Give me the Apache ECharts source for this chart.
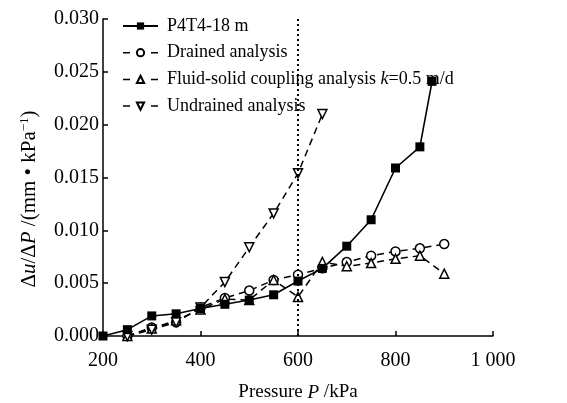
<!DOCTYPE html>
<html><head><meta charset="utf-8">
<script src="https://cdn.jsdelivr.net/npm/echarts@6/dist/echarts.min.js"></script>
<style>html,body{margin:0;padding:0;background:#fff}#c{width:567px;height:403px}</style>
</head><body><div id="c"></div>
<script>
const seriesNames = ['P4T4-18 m', 'Drained analysis', 'Fluid-solid coupling analysis k=0.5 m/d', 'Undrained analysis'];
const measuredP = [200,250,300,350,400,450,500,550,600,650,700,750,800,850,875];
const measuredV = [0.0000,0.0006,0.0019,0.0021,0.0026,0.0030,0.0034,0.0039,0.0052,0.0064,0.0085,0.0110,0.0159,0.0179,0.0241];
const calcP = [250,300,350,400,450,500,550,600,650,700,750,800,850,900];
const drainedV = [0.0000,0.0008,0.0013,0.0027,0.0036,0.0043,0.0053,0.0058,0.0064,0.0070,0.0076,0.0080,0.0083,0.0087];
const couplingV = [0.0000,0.0007,0.0015,0.0025,0.0035,0.0034,0.0053,0.0037,0.0070,0.0066,0.0069,0.0073,0.0076,0.0059];
const undrainedP = [250,300,350,400,450,500,550,600,650];
const undrainedV = [0.0000,0.0006,0.0013,0.0027,0.0051,0.0084,0.0116,0.0154,0.0210];
const xTicks = [200,400,600,800,1000];
const markerP = 600;

const FONT = 'Liberation Serif';
const zip = (xs, ys) => xs.map((x, i) => [x, ys[i]]);
const chart = echarts.init(document.getElementById('c'), null, {renderer: 'canvas'});
const dashed = {color: '#000', width: 1.5, type: [7, 5]};
const openSym = {color: '#fff', borderColor: '#000', borderWidth: 1.5};
const legendDash = {color: '#000', width: 1.5, type: [7, 21]};

chart.setOption({
  animation: false,
  backgroundColor: '#fff',
  grid: {left: 103, right: 74, top: 19, bottom: 67, containLabel: false, outerBoundsMode: 'none'},
  legend: {
    orient: 'vertical', left: 117, top: 11,
    itemWidth: 35, itemHeight: 9, itemGap: 6.7,
    data: [
      {name: seriesNames[0]},
      {name: seriesNames[1], lineStyle: legendDash},
      {name: seriesNames[2], lineStyle: legendDash},
      {name: seriesNames[3], lineStyle: legendDash}
    ],
    textStyle: {
      fontFamily: FONT, fontSize: 18, color: '#000', lineHeight: 20, padding: [0, 0, 0, 4],
      rich: {
        n: {fontFamily: FONT, fontSize: 18, color: '#000'},
        i: {fontFamily: FONT, fontSize: 18, color: '#000', fontStyle: 'italic'}
      }
    },
    formatter: name => name === seriesNames[2]
      ? '{n|Fluid-solid coupling analysis }{i|k}{n|=0.5 m/d}' : name
  },
  xAxis: {
    type: 'value', min: 200, max: 1000, interval: 200,
    name: '{n|Pressure }{i|P}{n| /kPa}', nameLocation: 'middle', nameGap: 47,
    nameTextStyle: {rich: {
      n: {fontFamily: FONT, fontSize: 19, color: '#000'},
      i: {fontFamily: FONT, fontSize: 19, color: '#000', fontStyle: 'italic'}
    }},
    axisLine: {show: true, lineStyle: {color: '#000', width: 1.5}},
    axisTick: {show: true, inside: true, length: 5, lineStyle: {color: '#000', width: 1.5}},
    axisLabel: {fontFamily: FONT, fontSize: 20, color: '#000', margin: 15,
      formatter: v => v >= 1000 ? String(v).replace(/(\d)(\d{3})$/, '$1 $2') : String(v)},
    splitLine: {show: false}
  },
  yAxis: {
    type: 'value', min: 0, max: 0.03, interval: 0.005,
    name: '{n|Δ}{i|u}{n|/Δ}{i|P}{n| /(mm • kPa}{s|−1}{n|)}',
    nameLocation: 'middle', nameGap: 63, nameRotate: 90,
    nameTextStyle: {padding: [0, 43, 0, 0], rich: {
      n: {fontFamily: FONT, fontSize: 21, color: '#000'},
      i: {fontFamily: FONT, fontSize: 21, color: '#000', fontStyle: 'italic'},
      s: {fontFamily: FONT, fontSize: 13, color: '#000', verticalAlign: 'top', padding: [0, 0, 9, 0]}
    }},
    axisLine: {show: true, lineStyle: {color: '#000', width: 1.5}},
    axisTick: {show: true, inside: true, length: 5, lineStyle: {color: '#000', width: 1.5}},
    axisLabel: {fontFamily: FONT, fontSize: 20, color: '#000', margin: 4,
      formatter: v => v.toFixed(3)},
    splitLine: {show: false}
  },
  series: [
    {
      name: seriesNames[0], type: 'line', data: zip(measuredP, measuredV),
      symbol: 'rect', symbolSize: 9, z: 5,
      lineStyle: {color: '#000', width: 1.6},
      itemStyle: {color: '#000'},
      markLine: {
        silent: true, symbol: 'none', label: {show: false},
        lineStyle: {color: '#000', width: 2, type: [2, 3]},
        data: [{xAxis: markerP}]
      }
    },
    {
      name: seriesNames[1], type: 'line', data: zip(calcP, drainedV),
      symbol: 'circle', symbolSize: 9, z: 3,
      lineStyle: dashed, itemStyle: openSym
    },
    {
      name: seriesNames[2], type: 'line', data: zip(calcP, couplingV),
      symbol: 'triangle', symbolSize: 9, z: 3,
      lineStyle: dashed, itemStyle: openSym
    },
    {
      name: seriesNames[3], type: 'line', data: zip(undrainedP, undrainedV),
      symbol: 'triangle', symbolRotate: 180, symbolSize: 9, z: 3,
      lineStyle: dashed, itemStyle: openSym
    }
  ]
});
</script></body></html>
